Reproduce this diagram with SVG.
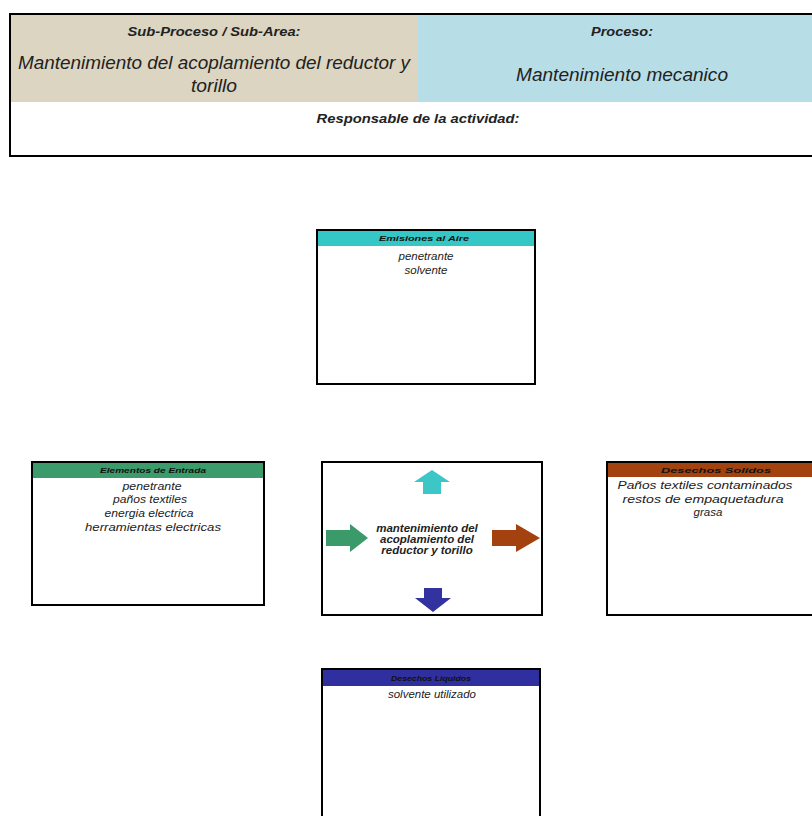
<svg xmlns="http://www.w3.org/2000/svg" width="812" height="816" viewBox="0 0 812 816">
<style>
text{font-family:"Liberation Sans",Arial,sans-serif;font-style:italic;fill:#222;text-anchor:middle}
.lbl{font-weight:bold;font-size:13px}
.big{font-size:19px}
.hd{font-size:8px;font-weight:bold;fill:#111}
.it{font-size:11.5px}
.box{fill:#fff;stroke:#000;stroke-width:2}
</style>
<rect width="812" height="816" fill="#fff"/>
<g id="header">
<rect x="10" y="14" width="408" height="88" fill="#dcd5c1"/>
<rect x="418" y="14" width="394" height="88" fill="#b7dde7"/>
<rect x="10" y="14" width="804" height="142" fill="none" stroke="#000" stroke-width="2"/>
<text class="lbl" x="214" y="36" textLength="173" lengthAdjust="spacingAndGlyphs">Sub-Proceso / Sub-Area:</text>
<text class="big" x="214" y="69" textLength="392" lengthAdjust="spacingAndGlyphs">Mantenimiento del acoplamiento del reductor y</text>
<text class="big" x="214" y="92" textLength="46" lengthAdjust="spacingAndGlyphs">torillo</text>
<text class="lbl" x="622" y="36" textLength="62" lengthAdjust="spacingAndGlyphs">Proceso:</text>
<text class="big" x="622" y="81" textLength="212" lengthAdjust="spacingAndGlyphs">Mantenimiento mecanico</text>
<text class="lbl" x="418" y="123" textLength="203" lengthAdjust="spacingAndGlyphs">Responsable de la actividad:</text>
</g>
<g id="top">
<rect class="box" x="317" y="230" width="218" height="154"/>
<rect x="318" y="231" width="216" height="15" fill="#35c6c6"/>
<text class="hd" x="424" y="241" textLength="90" lengthAdjust="spacingAndGlyphs">Emisiones al Aire</text>
<text class="it" x="426" y="260">penetrante</text>
<text class="it" x="426" y="274">solvente</text>
</g>
<g id="left">
<rect class="box" x="32" y="462" width="232" height="143"/>
<rect x="33" y="463" width="230" height="15" fill="#3b9b6b"/>
<text class="hd" x="153" y="473" textLength="106" lengthAdjust="spacingAndGlyphs">Elementos de Entrada</text>
<text class="it" x="152" y="490" textLength="59" lengthAdjust="spacingAndGlyphs">penetrante</text>
<text class="it" x="150" y="503" textLength="74" lengthAdjust="spacingAndGlyphs">paños textiles</text>
<text class="it" x="149" y="517" textLength="89" lengthAdjust="spacingAndGlyphs">energia electrica</text>
<text class="it" x="153" y="531" textLength="136" lengthAdjust="spacingAndGlyphs">herramientas electricas</text>
</g>
<g id="center">
<rect class="box" x="322" y="462" width="220" height="153"/>
<polygon points="432,470 450,482 441,482 441,494 423,494 423,482 414,482" fill="#3cc6c6"/>
<polygon points="326,530 350,530 350,524 368,538 350,552 350,546 326,546" fill="#3a9a6a"/>
<polygon points="492,530 516,530 516,524 540,538 516,552 516,546 492,546" fill="#a4420f"/>
<polygon points="424,588 442,588 442,598 451,598 433,612 415,598 424,598" fill="#33339f"/>
<text class="it" font-weight="bold" font-size="9" x="427" y="532">mantenimiento del</text>
<text class="it" font-weight="bold" font-size="9" x="427" y="543">acoplamiento del</text>
<text class="it" font-weight="bold" font-size="9" x="427" y="554">reductor y torillo</text>
</g>
<g id="right">
<rect class="box" x="607" y="462" width="210" height="153"/>
<rect x="608" y="463" width="208" height="14" fill="#a2420f"/>
<text class="hd" x="716" y="473" textLength="110" lengthAdjust="spacingAndGlyphs">Desechos Solidos</text>
<text class="it" font-size="12.5" x="705" y="489" textLength="175" lengthAdjust="spacingAndGlyphs">Paños textiles contaminados</text>
<text class="it" font-size="12" x="703" y="503" textLength="161" lengthAdjust="spacingAndGlyphs">restos de empaquetadura</text>
<text class="it" font-size="8" x="708" y="516">grasa</text>
</g>
<g id="bottom">
<rect class="box" x="322" y="669" width="218" height="160"/>
<rect x="323" y="670" width="216" height="16" fill="#2f2fa0"/>
<text class="hd" x="431" y="681" textLength="80" lengthAdjust="spacingAndGlyphs">Desechos Liquidos</text>
<text class="it" x="432" y="698" textLength="88" lengthAdjust="spacingAndGlyphs">solvente utilizado</text>
</g>
<g id="connectors"/>
</svg>
